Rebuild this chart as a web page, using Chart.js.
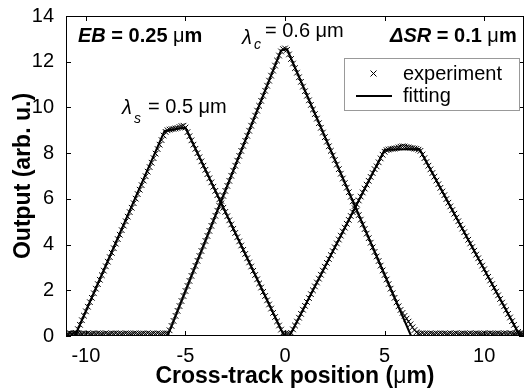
<!DOCTYPE html>
<html><head><meta charset="utf-8">
<script src="https://cdn.jsdelivr.net/npm/chart.js@4/dist/chart.umd.min.js"></script>
<style>html,body{margin:0;padding:0;background:#fff;overflow:hidden}</style>
</head><body>
<canvas id="c" width="529" height="388"></canvas>
<script>
// ---------- data ----------
const xTicks = [-10, -5, 0, 5, 10];
const yTicks = [0, 2, 4, 6, 8, 10, 12, 14];
const expStep = 0.1;

// lambda_s = 0.5 um : experiment, x from -10.9 step 0.1
const expStartS = -10.9;
const expS = [0.10,0.11,0.10,0.12,0.14,0.30,0.49,0.69,0.89,1.08,1.28,1.48,1.67,1.87,2.07,2.27,2.46,2.66,2.86,3.05,
3.25,3.45,3.64,3.84,4.04,4.24,4.43,4.63,4.83,5.02,5.22,5.42,5.61,5.81,6.01,6.21,6.40,6.60,6.80,6.99,
7.19,7.39,7.58,7.78,7.98,8.18,8.37,8.57,8.77,8.93,9.00,9.03,9.05,9.06,9.08,9.10,9.14,9.18,9.20,9.12,
8.92,8.74,8.56,8.37,8.19,8.00,7.82,7.64,7.45,7.27,7.08,6.90,6.72,6.53,6.35,6.16,5.98,5.80,5.61,5.43,
5.24,5.06,4.88,4.69,4.51,4.32,4.14,3.96,3.77,3.59,3.40,3.22,3.04,2.85,2.67,2.48,2.30,2.12,1.93,1.75,
1.56,1.38,1.20,1.01,0.83,0.64,0.46,0.28,0.14,0.10];

// lambda_c = 0.6 um : experiment, x from -10.9 step 0.1
const expStartC = -10.9;
const expC = [0.10,0.12,0.09,0.11,0.10,0.12,0.10,0.09,0.11,0.10,0.12,0.10,0.09,0.11,0.10,0.12,0.11,0.09,0.10,0.12,
0.10,0.09,0.11,0.10,0.12,0.10,0.11,0.09,0.10,0.12,0.11,0.10,0.09,0.11,0.12,0.10,0.10,0.09,0.11,0.10,
0.12,0.10,0.09,0.11,0.10,0.12,0.10,0.09,0.11,0.12,
0.12,0.25,0.44,0.66,0.88,1.10,1.31,1.53,1.75,1.97,2.19,2.41,2.63,2.85,3.07,3.29,3.50,3.72,3.94,4.16,
4.38,4.60,4.82,5.04,5.26,5.48,5.69,5.91,6.13,6.35,6.57,6.79,7.01,7.23,7.45,7.67,7.88,8.10,8.32,8.54,
8.76,8.98,9.20,9.42,9.64,9.86,10.07,10.29,10.51,10.73,10.95,11.17,11.39,11.61,11.83,12.05,12.27,12.45,12.55,12.58,
12.52,
12.32,12.12,11.92,11.72,11.52,11.32,11.12,10.91,10.71,10.51,10.31,10.11,9.91,9.71,9.51,9.31,9.11,8.90,8.70,8.50,
8.30,8.10,7.90,7.70,7.50,7.30,7.10,6.89,6.69,6.49,6.29,6.09,5.89,5.69,5.49,5.29,5.09,4.88,4.68,4.48,
4.28,4.08,3.88,3.68,3.48,3.28,3.08,2.87,2.67,2.47,2.27,2.07,1.87,1.67,1.47,1.30,1.14,1.01,0.88,0.76,
0.63,0.51,0.38,0.26,0.16,0.12,
0.10,0.12,0.09,0.11,0.10,0.12,0.10,0.09,0.11,0.10,0.12,0.10,0.11,0.09,0.10,0.12,0.10,0.11,0.12,0.09,
0.10,0.12,0.11,0.10,0.09,0.12,0.10,0.11,0.12,0.10,0.09,0.10,0.12,0.11,0.10,0.12,0.09,0.10,0.11,0.12,
0.10,0.09,0.12,0.11,0.10,0.12,0.10,0.09,0.11,0.12,0.10,0.11];

// delta SR = 0.1 um : experiment, x from 0.1 step 0.1
const expStartSR = 0.1;
const expSR = [0.10,0.11,0.14,0.29,0.46,0.63,0.80,0.97,1.15,1.32,1.49,1.66,1.83,2.00,2.17,2.34,2.51,2.68,2.86,3.03,
3.20,3.37,3.54,3.71,3.88,4.05,4.22,4.39,4.57,4.74,4.91,5.08,5.25,5.42,5.59,5.76,5.93,6.10,6.28,6.45,
6.62,6.79,6.96,7.13,7.30,7.42,7.60,7.77,7.93,8.06,8.13,8.16,8.18,8.19,8.20,8.22,8.25,8.28,8.30,8.29,
8.27,8.25,8.23,8.22,8.20,8.19,8.15,8.10,7.94,7.78,7.61,7.45,7.29,7.13,6.97,6.80,6.64,6.48,6.32,6.16,
5.99,5.83,5.67,5.51,5.35,5.18,5.02,4.86,4.70,4.54,4.37,4.21,4.05,3.89,3.73,3.56,3.40,3.24,3.08,2.92,
2.75,2.59,2.43,2.27,2.11,1.94,1.78,1.62,1.46,1.30,1.13,0.97,0.81,0.65,0.49,0.32,0.18,0.12,0.10];

// fitting curves (vertices)
const fitSX = [-11, -10.55, -6.05, -5.0, -0.05];
const fitSY = [0, 0, 8.97, 9.12, 0];
const fitCX = [-11, -5.9, -0.2, 0.1, 6.33, 12];
const fitCY = [0, 0, 12.5, 12.55, 0, 0];
const fitSRX = [0.23, 5.0, 6.75, 11.8, 12];
const fitSRY = [0, 8.15, 8.18, 0, 0];

// ---------- build ----------
function expPts(start, arr) { return arr.map((v, i) => ({ x: +(start + i * expStep).toFixed(2), y: v })); }
function fitPts(xs, ys) { return xs.map((x, i) => ({ x: x, y: ys[i] })); }

const F = '"Liberation Sans", Arial, Helvetica, sans-serif';

const expStyle = { showLine: false, pointStyle: 'crossRot', pointRadius: 4, pointBorderWidth: 1,
  pointBorderColor: '#000', pointBackgroundColor: '#000', borderColor: '#000' };
const fitStyle = { showLine: true, pointRadius: 0, borderWidth: 2, borderColor: '#000', tension: 0, fill: false };

function runs(ctx, x, y, list) {
  for (const r of list) {
    ctx.font = r.f;
    ctx.fillText(r.t, x, y + (r.dy || 0));
    x += ctx.measureText(r.t).width;
  }
}
function runsWidth(ctx, list) {
  let w = 0;
  for (const r of list) { ctx.font = r.f; w += ctx.measureText(r.t).width; }
  return w;
}

const decor = {
  id: 'decor',
  afterDraw(chart) {
    const ctx = chart.ctx;
    const a = chart.chartArea;
    const xs = chart.scales.x, ys = chart.scales.y;
    ctx.save();
    ctx.strokeStyle = '#000';
    ctx.fillStyle = '#000';
    ctx.lineWidth = 1;
    // box
    ctx.strokeRect(a.left + 0.5, a.top + 0.5, a.right - a.left - 1, a.bottom - a.top - 1);
    // inward ticks
    ctx.beginPath();
    for (const t of xs.ticks) {
      const p = Math.round(xs.getPixelForValue(t.value)) + 0.5;
      ctx.moveTo(p, a.bottom); ctx.lineTo(p, a.bottom - 5);
      ctx.moveTo(p, a.top); ctx.lineTo(p, a.top + 5);
    }
    for (const t of ys.ticks) {
      const p = Math.round(ys.getPixelForValue(t.value)) + 0.5;
      ctx.moveTo(a.left, p); ctx.lineTo(a.left + 5, p);
      ctx.moveTo(a.right, p); ctx.lineTo(a.right - 5, p);
    }
    ctx.stroke();

    ctx.textBaseline = 'alphabetic';
    ctx.textAlign = 'left';
    // axis titles
    const xt = [{ t: 'Cross-track position (', f: 'bold 23px ' + F }, { t: 'μ', f: '23px ' + F }, { t: 'm)', f: 'bold 23px ' + F }];
    const xw = runsWidth(ctx, xt);
    runs(ctx, (a.left + a.right) / 2 - xw / 2, 383, xt);
    const yt = [{ t: 'Output (arb. u.)', f: 'bold 23px ' + F }];
    const yw = runsWidth(ctx, yt);
    ctx.save();
    ctx.translate(30, (a.top + a.bottom) / 2);
    ctx.rotate(-Math.PI / 2);
    runs(ctx, -yw / 2, 0, yt);
    ctx.restore();

    // annotations
    runs(ctx, 78, 42, [{ t: 'EB', f: 'italic bold 20px ' + F }, { t: ' = 0.25 ', f: 'bold 20px ' + F },
      { t: 'μ', f: '20px ' + F }, { t: 'm', f: 'bold 20px ' + F }]);
    runs(ctx, 390, 42, [{ t: 'ΔSR', f: 'italic bold 20px ' + F }, { t: ' = 0.1 ', f: 'bold 20px ' + F },
      { t: 'μ', f: '20px ' + F }, { t: 'm', f: 'bold 20px ' + F }]);
    ctx.font = 'italic 20px ' + F; ctx.fillText('λ', 242, 44);
    ctx.font = 'italic 14px ' + F; ctx.fillText('c', 254, 49);
    ctx.font = '20px ' + F; ctx.fillText('= 0.6 μm', 265, 37);
    ctx.font = 'italic 20px ' + F; ctx.fillText('λ', 122, 114);
    ctx.font = 'italic 14px ' + F; ctx.fillText('s', 134, 123);
    ctx.font = '20px ' + F; ctx.fillText('= 0.5 μm', 148, 113);

    // legend
    ctx.fillStyle = '#fff';
    ctx.fillRect(344, 58, 175, 52);
    ctx.strokeStyle = '#999';
    ctx.strokeRect(344.5, 58.5, 175, 52);
    ctx.strokeStyle = '#000';
    ctx.fillStyle = '#000';
    ctx.beginPath();
    ctx.moveTo(370.5, 70.5); ctx.lineTo(376.5, 76.5);
    ctx.moveTo(376.5, 70.5); ctx.lineTo(370.5, 76.5);
    ctx.stroke();
    ctx.lineWidth = 2;
    ctx.beginPath(); ctx.moveTo(356, 96); ctx.lineTo(392, 96); ctx.stroke();
    ctx.font = '20px ' + F;
    ctx.fillText('experiment', 403, 80);
    ctx.fillText('fitting', 403, 102);
    ctx.restore();
  }
};

new Chart(document.getElementById('c'), {
  type: 'scatter',
  data: {
    datasets: [
      Object.assign({ label: 'fit s', data: fitPts(fitSX, fitSY) }, fitStyle),
      Object.assign({ label: 'fit c', data: fitPts(fitCX, fitCY) }, fitStyle),
      Object.assign({ label: 'fit SR', data: fitPts(fitSRX, fitSRY) }, fitStyle),
      Object.assign({ label: 'exp s', data: expPts(expStartS, expS) }, expStyle),
      Object.assign({ label: 'exp c', data: expPts(expStartC, expC) }, expStyle),
      Object.assign({ label: 'exp SR', data: expPts(expStartSR, expSR) }, expStyle)
    ]
  },
  options: {
    responsive: false,
    animation: false,
    devicePixelRatio: 1,
    layout: { padding: { top: 15, right: 1, left: 0, bottom: 0 } },
    plugins: { legend: { display: false }, tooltip: { enabled: false } },
    scales: {
      x: {
        type: 'linear', min: -11, max: 12,
        afterBuildTicks: s => { s.ticks = xTicks.map(v => ({ value: v })); },
        afterFit: s => { s.height = 52; },
        grid: { display: false }, border: { display: false },
        ticks: { color: '#000', font: { family: F, size: 20 }, padding: 0, maxRotation: 0, autoSkip: false }
      },
      y: {
        type: 'linear', min: 0, max: 14,
        afterBuildTicks: s => { s.ticks = yTicks.map(v => ({ value: v })); },
        afterFit: s => { s.width = 66; },
        grid: { display: false }, border: { display: false },
        ticks: { color: '#000', font: { family: F, size: 20 }, padding: 4, autoSkip: false }
      }
    }
  },
  plugins: [decor]
});
</script>
</body></html>
